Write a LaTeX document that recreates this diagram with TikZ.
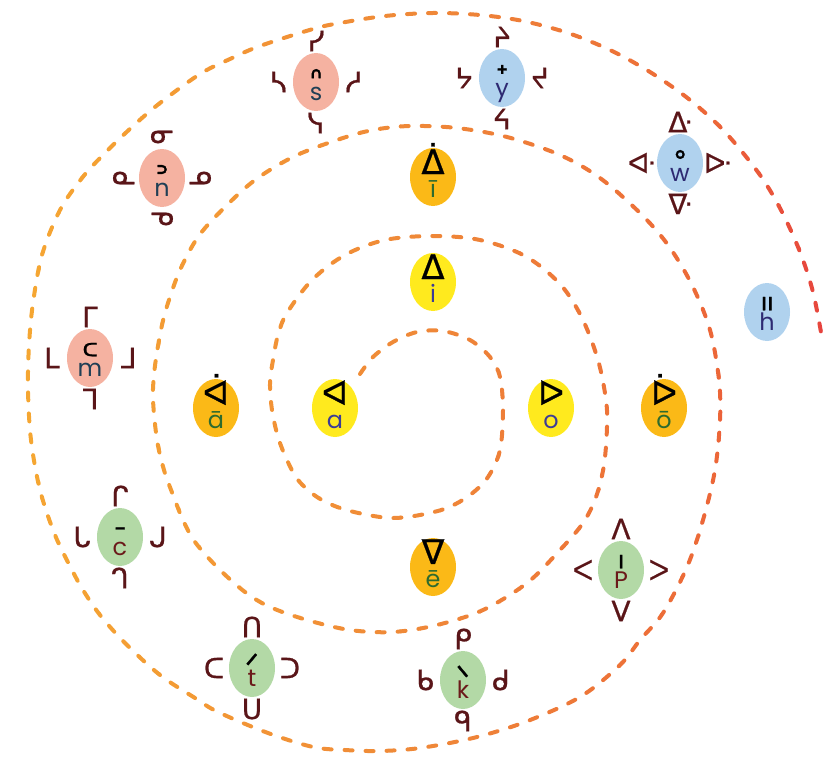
\documentclass[tikz,border=0pt]{standalone}
\usepackage{fontspec}
\setmainfont{Poppins}
\newfontfamily\sylfont{DejaVu Sans}[FakeBold=0.7]
\usetikzlibrary{shapes.geometric,calc}
\definecolor{inFill}{HTML}{FFEA1E}
\definecolor{outFill}{HTML}{FBB917}
\definecolor{gFill}{HTML}{B3D9A6}
\definecolor{pFill}{HTML}{F5B2A1}
\definecolor{bFill}{HTML}{B0D2EE}
\definecolor{sylC}{HTML}{5A1518}
\definecolor{inText}{HTML}{3C3C96}
\definecolor{outText}{HTML}{2E6B2E}
\definecolor{gText}{HTML}{6B1A1A}
\definecolor{pText}{HTML}{203F55}
\definecolor{bText}{HTML}{2E2A72}
\definecolor{spA}{HTML}{F6A832}
\definecolor{spB}{HTML}{EF8838}
\definecolor{spC}{HTML}{EC6A38}
\definecolor{spD}{HTML}{E63F3E}
\tikzset{
  ell/.style={ellipse, minimum width=46bp, minimum height=58bp, inner sep=0pt},
  sylb/.style={font=\sylfont\fontsize{28}{28}\selectfont, text=sylC, inner sep=0pt},
  finb/.style={font=\sylfont\fontsize{33}{33}\selectfont, text=black, inner sep=0pt},
  vsyl/.style={font=\sylfont\fontsize{34}{34}\selectfont, text=black, inner sep=0pt},
  lat/.style={font=\fontsize{24}{24}\selectfont, inner sep=0pt},
  spiral/.style={line width=4bp, line cap=round, dash pattern=on 8bp off 13bp},
}
% #1 name, #2 x,y, #3 group, #4 final, #5 letter, #6 i, #7 a, #8 o, #9 e
\newcommand\cons[9]{%
  \node[ell, fill=#3Fill] (#1) at (#2) {};
  \node[finb, anchor=base] (#1-fin) at ($(#1)+(0,9)$) {#4};
  \node[lat, text=#3Text, anchor=base] (#1-lat) at ($(#1)+(0,18)$) {#5};
  \node[sylb] (#1-i) at ($(#1)+(0,-41)$) {#6};
  \node[sylb] (#1-a) at ($(#1)+(-38,0)$) {#7};
  \node[sylb] (#1-o) at ($(#1)+(38,0)$) {#8};
  \node[sylb] (#1-e) at ($(#1)+(0,41)$) {#9};
}
% #1 name, #2 x,y, #3 in/out, #4 syllabic, #5 latin
\newcommand\vow[5]{%
  \node[ell, fill=#3Fill] (#1) at (#2) {};
  \node[vsyl, anchor=base] (#1-s) at ($(#1)+(0,-3)$) {#4};
  \node[lat, text=#3Text, anchor=base] (#1-lat) at ($(#1)+(0,20)$) {#5};
}
\begin{document}
\begin{tikzpicture}[x=1bp,y=-1bp]
\useasboundingbox (0,0) rectangle (840,757);
\foreach \xa in {0,20,...,820}{
  \pgfmathsetmacro\xm{\xa+10}
  \ifdim\xm pt<420pt
    \pgfmathsetmacro\pct{\xm/4.2}\colorlet{sc}{spB!\pct!spA}
  \else\ifdim\xm pt<700pt
    \pgfmathsetmacro\pct{(\xm-420)/2.8}\colorlet{sc}{spC!\pct!spB}
  \else
    \pgfmathsetmacro\pct{(\xm-700)/1.4}\colorlet{sc}{spD!\pct!spC}
  \fi\fi
  \begin{scope}
    \clip (\xa,-5) rectangle (\xa+20.5,765);
    \draw[spiral, draw=sc] plot[smooth, tension=0.55] coordinates {
      (360,374) (373,357) (393,342) (417,332) (443,331) (470,340) (490,357)
      (500,377) (503,410) (500,450) (488,477) (470,495) (447,508) (420,515)
      (393,518) (368,515) (340,508) (317,497) (298,480) (287,460) (278,437)
      (272,410) (270,383) (273,360) (278,335) (287,313) (312,280) (345,255)
      (385,240) (433,236) (480,240) (525,256) (560,284) (582,318) (598,360)
      (606,400) (607,427) (604,465) (596,497) (583,523) (560,550) (527,583)
      (483,610) (437,625) (393,632) (350,630) (307,620) (270,607) (245,592)
      (218,568) (195,542) (183,520) (173,495) (164,470) (157,440)
      (153,400) (154,375) (157,352) (162,325) (168,303) (180,270) (198,237)
      (222,210) (255,180) (295,156) (340,139) (373,130) (410,126) (457,128)
      (507,137) (560,155) (600,178) (640,213) (668,245) (692,285) (710,330)
      (719,380) (720,420) (715,470) (703,520) (687,567) (663,613) (640,640)
      (620,665) (580,697) (525,722) (473,738) (420,748) (380,751) (345,750)
      (313,747) (268,733) (218,712) (195,698) (160,675) (125,643) (100,615)
      (83,590) (72,570) (55,535) (40,490) (31,440) (28,390) (29,345) (33,303)
      (42,255) (60,210) (82,178) (103,155) (132,127) (160,103) (200,74)
      (230,59) (260,46) (313,29) (340,23) (385,16) (433,13) (480,15) (523,21)
      (568,33) (610,50) (650,72) (690,100) (725,132) (760,175) (782,212)
      (800,252) (813,292) (822,338)
    };
  \end{scope}
}
\vow{a}{335,408}{in}{ᐊ}{a}
\vow{i}{433,282}{in}{ᐃ}{i}
\vow{o}{551,408}{in}{ᐅ}{o}
\vow{aa}{216,408}{out}{ᐋ}{ā}
\vow{ii}{433,177}{out}{ᐄ}{ī}
\vow{oo}{664,408}{out}{ᐆ}{ō}
\vow{ee}{433,567}{out}{ᐁ}{ē}
\cons{p}{621,570}{g}{ᑊ}{P}{ᐱ}{ᐸ}{ᐳ}{ᐯ}
\cons{t}{252,668}{g}{ᐟ}{t}{ᑎ}{ᑕ}{ᑐ}{ᑌ}
\cons{k}{463,680}{g}{ᐠ}{k}{ᑭ}{ᑲ}{ᑯ}{ᑫ}
\cons{c}{120,537}{g}{ᐨ}{c}{ᒋ}{ᒐ}{ᒍ}{ᒉ}
\cons{m}{90,358}{p}{ᒼ}{m}{ᒥ}{ᒪ}{ᒧ}{ᒣ}
\cons{n}{162,178}{p}{ᐣ}{n}{ᓂ}{ᓇ}{ᓄ}{ᓀ}
\cons{s}{316,82}{p}{ᐢ}{s}{ᓯ}{ᓴ}{ᓱ}{ᓭ}
\cons{y}{502,78}{b}{ᐩ}{y}{ᔨ}{ᔭ}{ᔪ}{ᔦ}
\cons{w}{680,163}{b}{ᐤ}{w}{ᐏ}{ᐘ}{ᐓ}{ᐍ}
\node[ell, fill=bFill] (h) at (767,312) {};
\node[finb, anchor=base] (h-fin) at ($(h)+(0,9)$) {ᐦ};
\node[lat, text=bText, anchor=base] (h-lat) at ($(h)+(0,18)$) {h};
\end{tikzpicture}
\end{document}
